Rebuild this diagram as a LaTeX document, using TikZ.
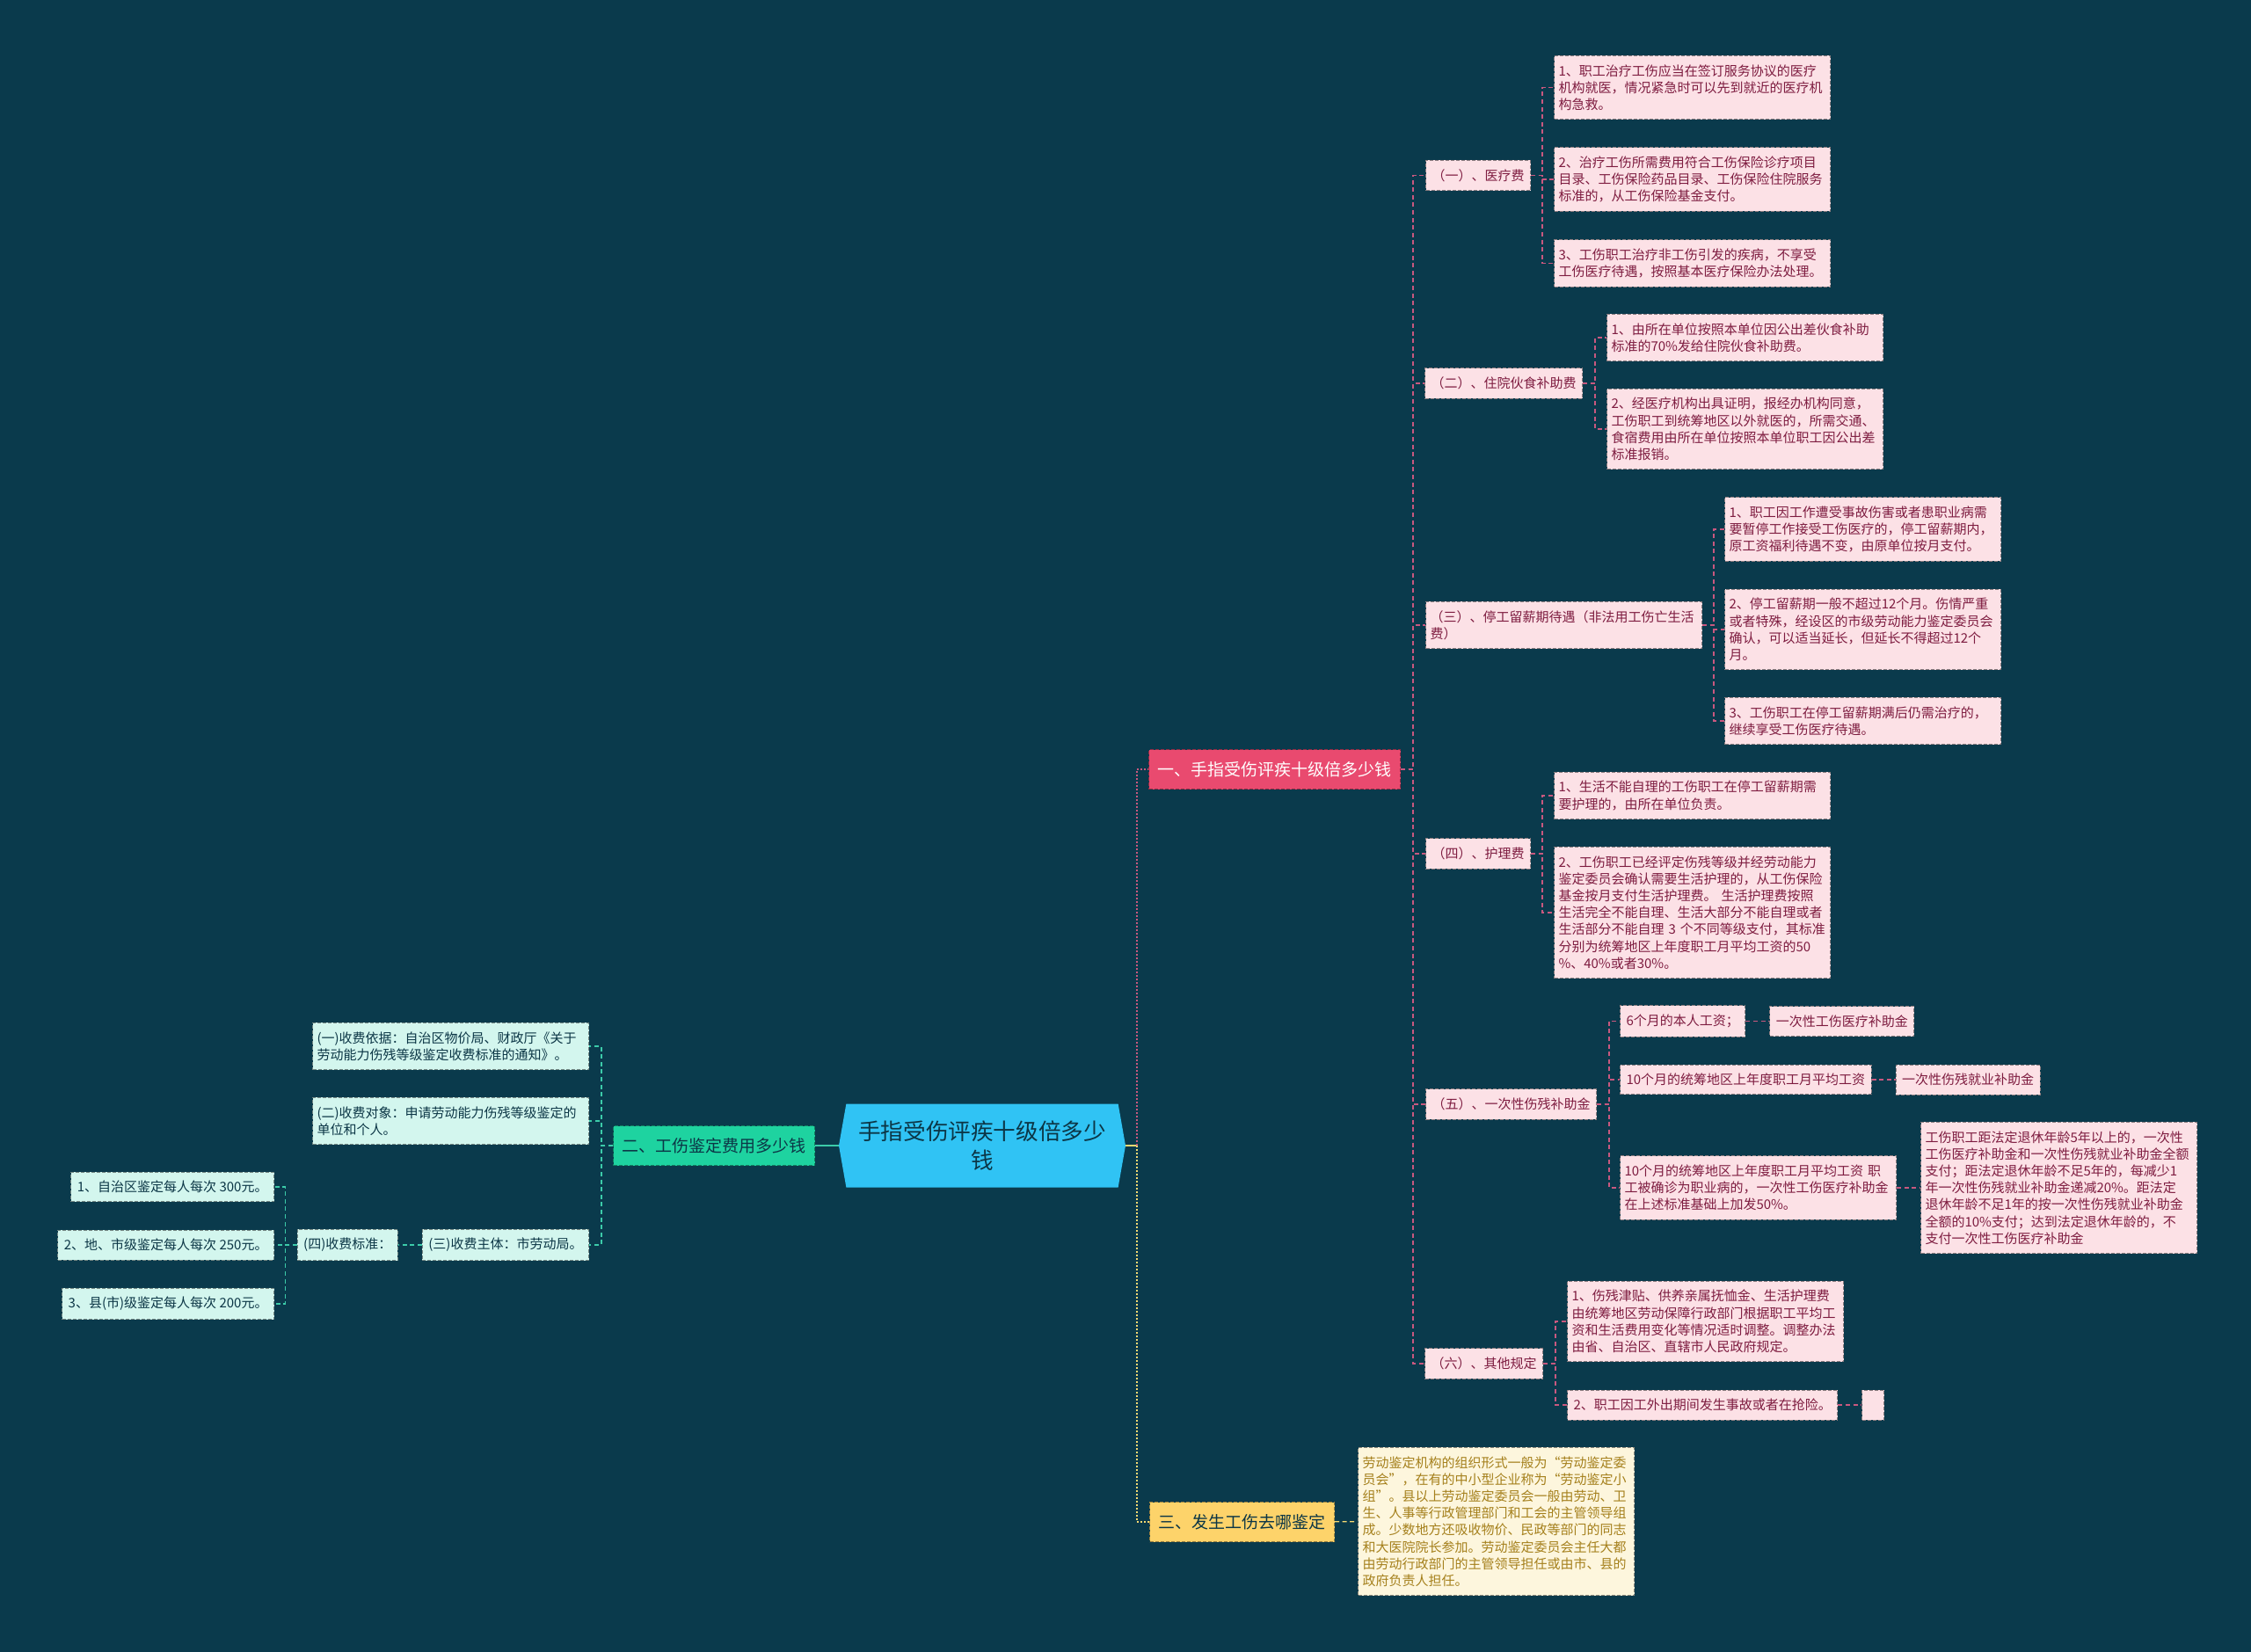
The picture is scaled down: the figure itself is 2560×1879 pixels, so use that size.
\documentclass[tikz,border=0pt]{standalone}
\usepackage{fontspec}
\setmainfont{Noto Sans CJK SC}
\usetikzlibrary{positioning,shapes.symbols}
\definecolor{bgc}{HTML}{0A3A4C}
\definecolor{pkfill}{HTML}{FCE1E6}
\definecolor{pktext}{HTML}{7E1C40}
\definecolor{pkline}{HTML}{C9587F}
\definecolor{redfill}{HTML}{E94A6F}
\definecolor{grfill}{HTML}{1ED3A0}
\definecolor{cyfill}{HTML}{D3F6EE}
\definecolor{tlline}{HTML}{3CCBA9}
\definecolor{darktext}{HTML}{0C3646}
\definecolor{rootfill}{HTML}{30C3F4}
\definecolor{ylfill}{HTML}{FDD36A}
\definecolor{ylline}{HTML}{F7DA72}
\definecolor{crfill}{HTML}{FDF6DD}
\definecolor{crtext}{HTML}{A5801C}
\tikzset{
  box/.style={rectangle, dash pattern=on 2pt off 1pt, line width=0.5pt,
    inner xsep=3.5pt, inner ysep=5pt},
  small/.style={font=\fontsize{7.5}{9.6}\selectfont},
  pk/.style={box, small, fill=pkfill, draw=pkfill!55!black, text=pktext},
  pkwide/.style={pk, inner xsep=2.5pt, text width=152pt, align=left},
  cy/.style={box, small, fill=cyfill, draw=cyfill!55!black, text=darktext},
  cywide/.style={cy, inner xsep=2.5pt, text width=152pt, align=left},
  cr/.style={box, small, fill=crfill, draw=crfill!55!black, text=crtext,
    inner xsep=2.5pt, text width=152pt, align=left},
  topic/.style={box, font=\fontsize{9.5}{12}\selectfont, inner xsep=5pt,
    minimum height=22.5pt},
  hub/.style={signal, signal to=west and east, signal pointer angle=160,
    fill=rootfill, text=darktext, font=\fontsize{12.8}{16.5}\selectfont,
    align=center, minimum width=163pt, minimum height=47.5pt, inner sep=2pt},
  pklink/.style={draw=pkline, line width=0.6pt, dash pattern=on 2.5pt off 1.8pt},
  tllink/.style={draw=tlline, line width=0.6pt, dash pattern=on 2.5pt off 1.8pt},
  yllink/.style={draw=ylline, line width=1pt, dash pattern=on 1pt off 1pt},
}
\begin{document}
\begin{tikzpicture}[x=0.5pt, y=-0.5pt, node distance=13.5pt]
  \fill[bgc] (0,0) rectangle (2560,1879);
  \useasboundingbox (0,0) rectangle (2560,1879);

  \node[hub] (root) at (1117,1303) {手指受伤评疾十级倍多少\\钱};
  \node[topic, fill=redfill, draw=redfill!60!black, text=white, anchor=west] (b1) at (1306,875) {一、手指受伤评疾十级倍多少钱};
  \node[topic, fill=grfill, draw=grfill!60!black, text=darktext, anchor=east] (b2) at (927,1303) {二、工伤鉴定费用多少钱};
  \node[topic, fill=ylfill, draw=ylfill!60!black, text=darktext, anchor=west] (b3) at (1307,1731) {三、发生工伤去哪鉴定};

  % 一
  \node[pk, anchor=west] (m1) at (1621,199.5) {（一）、医疗费};
  \node[pk, anchor=west] (m2) at (1620,436) {（二）、住院伙食补助费};
  \node[pkwide, anchor=west] (m3) at (1621,711) {（三）、停工留薪期待遇（非法用工伤亡生活\\费）};
  \node[pk, anchor=west] (m4) at (1621,971) {（四）、护理费};
  \node[pk, anchor=west] (m5) at (1621,1256) {（五）、一次性伤残补助金};
  \node[pk, anchor=west] (m6) at (1620,1551) {（六）、其他规定};

  \node[pkwide, anchor=west] (m1a) at (1767,99.5) {1、职工治疗工伤应当在签订服务协议的医疗\\机构就医，情况紧急时可以先到就近的医疗机\\构急救。};
  \node[pkwide, anchor=west] (m1b) at (1767,204) {2、治疗工伤所需费用符合工伤保险诊疗项目\\目录、工伤保险药品目录、工伤保险住院服务\\标准的，从工伤保险基金支付。};
  \node[pkwide, anchor=west] (m1c) at (1767,299.5) {3、工伤职工治疗非工伤引发的疾病，不享受\\工伤医疗待遇，按照基本医疗保险办法处理。};

  \node[pkwide, anchor=west] (m2a) at (1827,384) {1、由所在单位按照本单位因公出差伙食补助\\标准的70\%发给住院伙食补助费。};
  \node[pkwide, anchor=west] (m2b) at (1827,488) {2、经医疗机构出具证明，报经办机构同意，\\工伤职工到统筹地区以外就医的，所需交通、\\食宿费用由所在单位按照本单位职工因公出差\\标准报销。};

  \node[pkwide, anchor=west] (m3a) at (1961,602) {1、职工因工作遭受事故伤害或者患职业病需\\要暂停工作接受工伤医疗的，停工留薪期内，\\原工资福利待遇不变，由原单位按月支付。};
  \node[pkwide, anchor=west] (m3b) at (1961,716) {2、停工留薪期一般不超过12个月。伤情严重\\或者特殊，经设区的市级劳动能力鉴定委员会\\确认，可以适当延长，但延长不得超过12个\\月。};
  \node[pkwide, anchor=west] (m3c) at (1961,820) {3、工伤职工在停工留薪期满后仍需治疗的，\\继续享受工伤医疗待遇。};

  \node[pkwide, anchor=west] (m4a) at (1767,905) {1、生活不能自理的工伤职工在停工留薪期需\\要护理的，由所在单位负责。};
  \node[pkwide, anchor=west] (m4b) at (1767,1038) {2、工伤职工已经评定伤残等级并经劳动能力\\鉴定委员会确认需要生活护理的，从工伤保险\\基金按月支付生活护理费。 生活护理费按照\\生活完全不能自理、生活大部分不能自理或者\\生活部分不能自理 3 个不同等级支付，其标准\\分别为统筹地区上年度职工月平均工资的50\\\%、40\%或者30\%。};

  \node[pk, anchor=west] (m5a) at (1842,1161.5) {6个月的本人工资；};
  \node[pk, right=of m5a] (m5aa) {一次性工伤医疗补助金};
  \node[pk, anchor=west] (m5b) at (1842,1228) {10个月的统筹地区上年度职工月平均工资};
  \node[pk, right=of m5b] (m5bb) {一次性伤残就业补助金};
  \node[pkwide, anchor=west] (m5c) at (1842,1351) {10个月的统筹地区上年度职工月平均工资 职\\工被确诊为职业病的，一次性工伤医疗补助金\\在上述标准基础上加发50\%。};
  \node[pkwide, right=of m5c] (m5cc) {工伤职工距法定退休年龄5年以上的，一次性\\工伤医疗补助金和一次性伤残就业补助金全额\\支付；距法定退休年龄不足5年的，每减少1\\年一次性伤残就业补助金递减20\%。距法定\\退休年龄不足1年的按一次性伤残就业补助金\\全额的10\%支付；达到法定退休年龄的，不\\支付一次性工伤医疗补助金};

  \node[pkwide, anchor=west] (m6a) at (1782,1503) {1、伤残津贴、供养亲属抚恤金、生活护理费\\由统筹地区劳动保障行政部门根据职工平均工\\资和生活费用变化等情况适时调整。调整办法\\由省、自治区、直辖市人民政府规定。};
  \node[pk, anchor=west] (m6b) at (1782,1598) {2、职工因工外出期间发生事故或者在抢险。};
  \node[pk, right=of m6b, minimum width=12.5pt, minimum height=17pt] (m6bb) {};

  % 二
  \node[cywide, anchor=east] (l1) at (670,1190) {(一)收费依据：自治区物价局、财政厅《关于\\劳动能力伤残等级鉴定收费标准的通知》。};
  \node[cywide, anchor=east] (l2) at (670,1275) {(二)收费对象：申请劳动能力伤残等级鉴定的\\单位和个人。};
  \node[cy, anchor=east] (l3) at (670,1416) {(三)收费主体：市劳动局。};
  \node[cy, left=of l3] (l4) {(四)收费标准：};
  \node[cy, anchor=east] (l4a) at (312,1350) {1、自治区鉴定每人每次 300元。};
  \node[cy, anchor=east] (l4b) at (312,1416) {2、地、市级鉴定每人每次 250元。};
  \node[cy, anchor=east] (l4c) at (312,1483) {3、县(市)级鉴定每人每次 200元。};

  % 三
  \node[cr, anchor=west] (n3) at (1544,1730.5) {劳动鉴定机构的组织形式一般为“劳动鉴定委\\员会”，在有的中小型企业称为“劳动鉴定小\\组”。县以上劳动鉴定委员会一般由劳动、卫\\生、人事等行政管理部门和工会的主管领导组\\成。少数地方还吸收物价、民政等部门的同志\\和大医院院长参加。劳动鉴定委员会主任大都\\由劳动行政部门的主管领导担任或由市、县的\\政府负责人担任。};

  \draw[draw=tlline, line width=1pt] (root.west) -- (b2.east);
  \draw[draw=ylline, line width=1pt] (root.east) -- ++(13,0) coordinate (hj);
  \draw[pklink, line width=1pt, dash pattern=on 1pt off 1pt] (hj) |- (b1.west);
  \draw[yllink] (hj) |- (b3.west);

  \foreach \m in {m1,m2,m3,m4,m5,m6}
    \draw[pklink] (b1.east) -- ++(14,0) |- (\m.west);
  \foreach \c in {m1a,m1b,m1c}
    \draw[pklink] (m1.east) -- ++(13,0) |- (\c.west);
  \foreach \c in {m2a,m2b}
    \draw[pklink] (m2.east) -- ++(14,0) |- (\c.west);
  \foreach \c in {m3a,m3b,m3c}
    \draw[pklink] (m3.east) -- ++(13,0) |- (\c.west);
  \foreach \c in {m4a,m4b}
    \draw[pklink] (m4.east) -- ++(13,0) |- (\c.west);
  \foreach \c in {m5a,m5b,m5c}
    \draw[pklink] (m5.east) -- ++(14,0) |- (\c.west);
  \foreach \c in {m6a,m6b}
    \draw[pklink] (m6.east) -- ++(14,0) |- (\c.west);
  \draw[pklink] (m5a) -- (m5aa);
  \draw[pklink] (m5b) -- (m5bb);
  \draw[pklink] (m5c) -- (m5cc);
  \draw[pklink] (m6b) -- (m6bb);

  \foreach \c in {l1,l2,l3}
    \draw[tllink] (b2.west) -- ++(-13,0) |- (\c.east);
  \draw[tllink] (l3) -- (l4);
  \foreach \c in {l4a,l4b,l4c}
    \draw[tllink] (l4.west) -- ++(-13,0) |- (\c.east);

  \draw[draw=ylline, line width=0.6pt, dash pattern=on 2.5pt off 1.8pt] (b3) -- (n3);
\end{tikzpicture}
\end{document}
